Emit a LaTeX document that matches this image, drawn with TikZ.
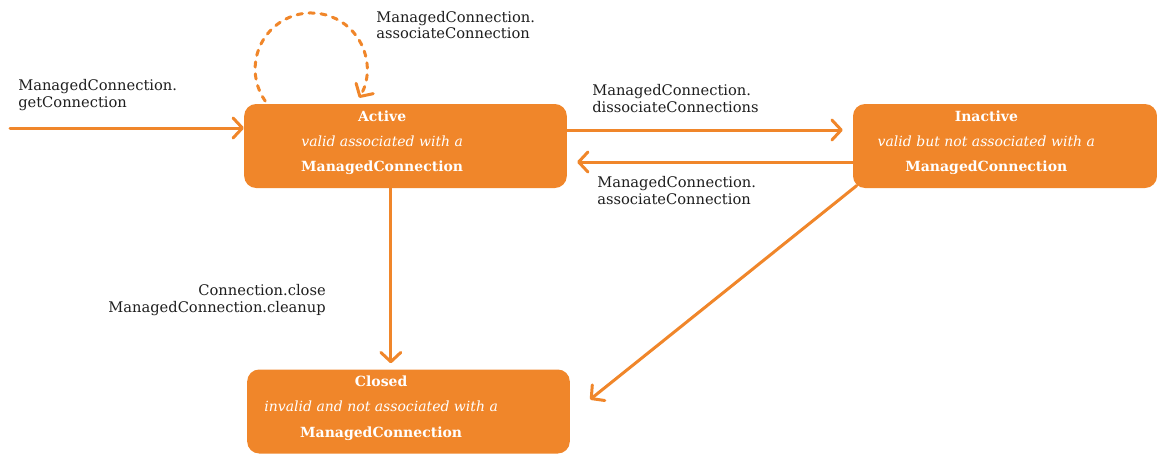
\documentclass[tikz,border=0pt]{standalone}
\usepackage{fontspec}
\setmainfont{DejaVu Serif}
\usepackage{xcolor}
\usetikzlibrary{positioning,calc,arrows.meta}
\definecolor{jcaorange}{HTML}{F0862A}
\definecolor{labelgray}{HTML}{1E1E1E}

\begin{document}
\begin{tikzpicture}[x=0.75pt, y=0.75pt,
  state/.style={fill=jcaorange, rounded corners=9pt, minimum width=242pt, minimum height=63pt, inner sep=0pt},
  statetxt/.style={text=white, align=center, inner sep=0pt, font=\fontsize{10.5}{19}\selectfont},
  trans/.style={draw=jcaorange, line width=2.25pt, line cap=round, -{Straight Barb[round, length=7pt, width=15pt]}},
  lbl/.style={text=labelgray, inner sep=0pt, font=\fontsize{11}{12.5}\selectfont}]
  \useasboundingbox (0,0) rectangle (1157,455);

  % States
  \node[state] (active) at (405.5,309) {};
  \node[state, minimum width=228pt] (inactive) at (1005,309) {};
  \node[state] (closed) at (408.5,43.5) {};

  % State texts
  \node[statetxt] (activetxt) at ([shift={(-17.5pt,2.5pt)}]active.center)
    {\textbf{Active}\\ \textit{valid associated with a}\\ \textbf{ManagedConnection}};
  \node[statetxt] (inactivetxt) at ([shift={(-14pt,2.5pt)}]inactive.center)
    {\textbf{Inactive}\\ \textit{valid but not associated with a}\\ \textbf{ManagedConnection}};
  \node[statetxt] (closedtxt) at ([shift={(-20.5pt,2.5pt)}]closed.center)
    {\textbf{Closed}\\ \textit{invalid and not associated with a}\\ \textbf{ManagedConnection}};

  % Transitions
  \coordinate (entry) at (10,327);
  \draw[trans] (entry) -- (entry -| active.west);
  \draw[trans, dash pattern=on 4pt off 5pt] ([shift={(16pt,2pt)}]active.north west)
    arc[start angle=215, end angle=-31, radius=42pt];
  \draw[trans, shorten >=7.5pt] ([yshift=12pt]active.east) -- ([yshift=12pt]inactive.west);
  \draw[trans, shorten >=7.5pt] ([yshift=-12pt]inactive.west) -- ([yshift=-12pt]active.east);
  \draw[trans, shorten >=4.5pt] ([xshift=-11pt]active.south) -- ([xshift=-11pt]active.south |- closed.north);
  \draw[trans] ([shift={(3pt,2pt)}]inactive.south west) -- ([shift={(15pt,9pt)}]closed.east);

  % Labels
  \node[lbl, anchor=west, align=left] (getlbl) at (18,360) {ManagedConnection.\\getConnection};
  \node[lbl, anchor=west, align=left] (looplbl) at (376,430) {ManagedConnection.\\associateConnection};
  \node[lbl, anchor=west, align=left] (dissoclbl) at (592,356.5) {ManagedConnection.\\dissociateConnections};
  \node[lbl, anchor=west, align=left] (assoclbl) at (597,264.5) {ManagedConnection.\\associateConnection};
  \node[lbl, anchor=east, align=right] (closelbl) at (326,155) {Connection.close\\ManagedConnection.cleanup};
\end{tikzpicture}
\end{document}
